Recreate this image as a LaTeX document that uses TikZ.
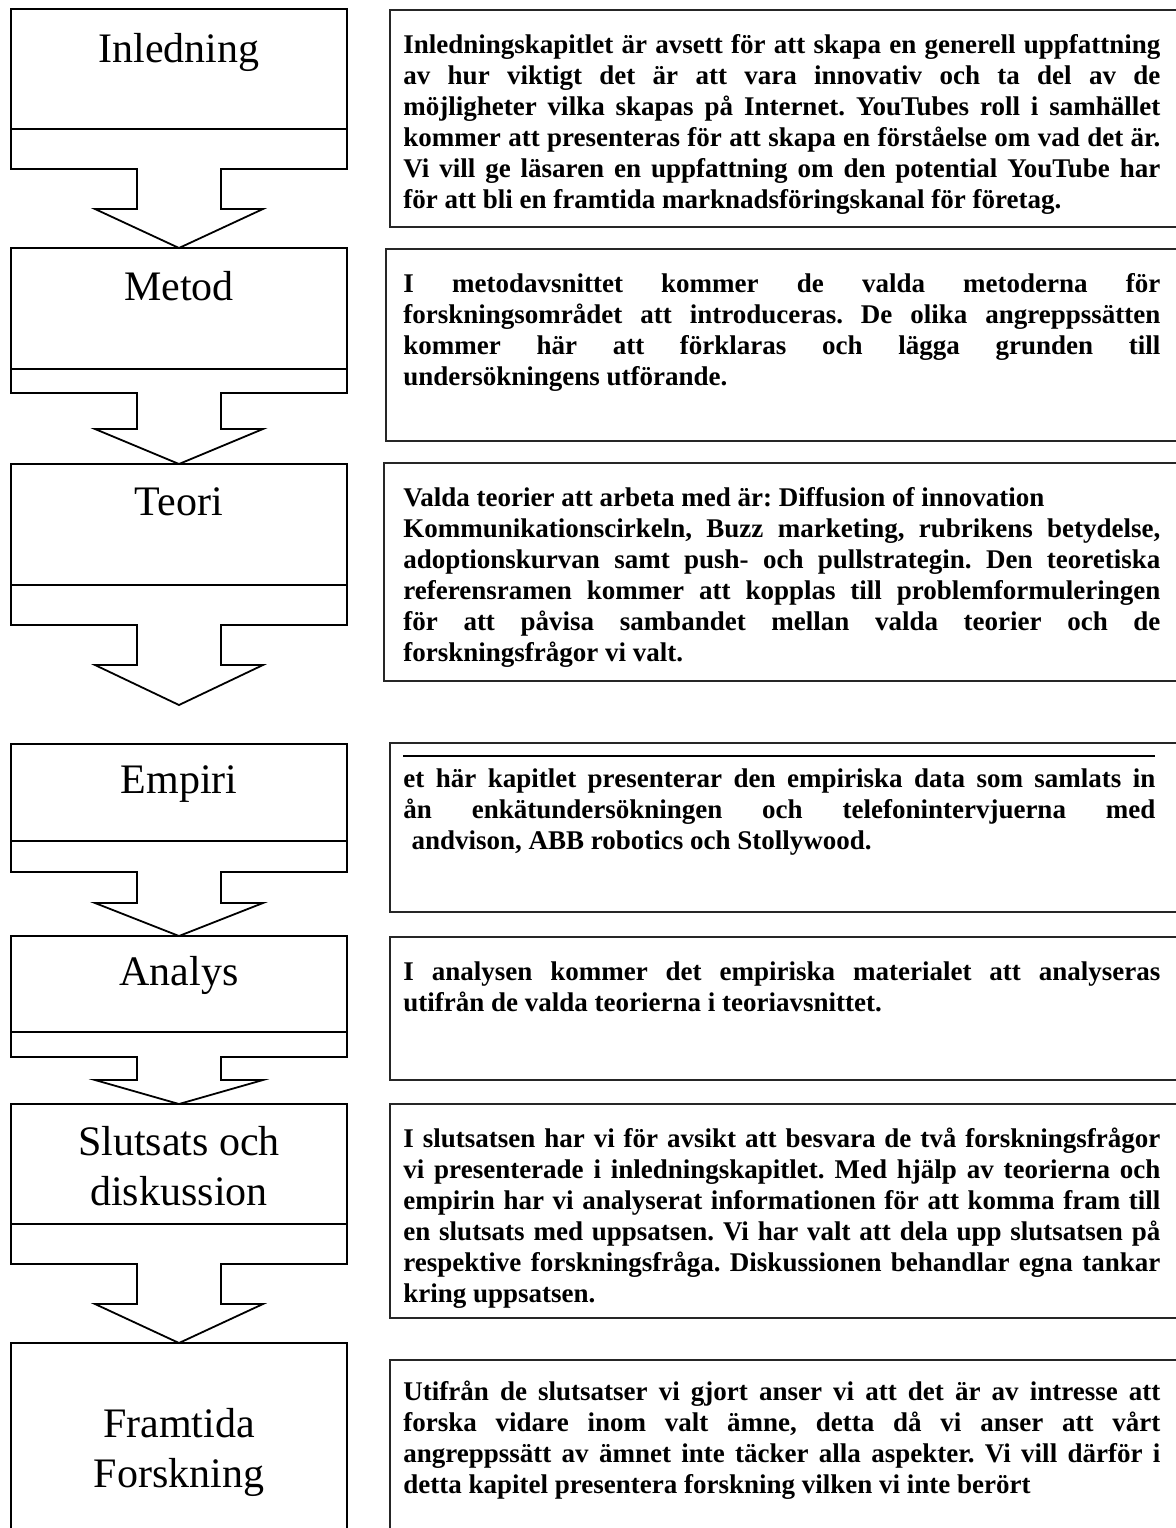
\documentclass[tikz,border=0pt]{standalone}
\usepackage{fontspec}
\setmainfont{Liberation Serif}
\frenchspacing
\newlength{\rw}\setlength{\rw}{378.5pt}
\newlength{\rwe}\setlength{\rwe}{376pt}
\newcommand{\rtxt}{\fontsize{13.5pt}{15.5pt}\selectfont\bfseries\frenchspacing}
\newcommand{\ltxt}{\fontsize{21pt}{25pt}\selectfont}
\newcommand{\jl}[1]{\hbox to \rw{#1}}
\newcommand{\jle}[1]{\hbox to \rwe{#1}}
\newcommand{\secshape}[5]{%
  \draw[leftbox] (11,#1) -- (347,#1) -- (347,#3) -- (221,#3) -- (221,#4) -- (263,#4)
    -- (179,#5) -- (95,#4) -- (137,#4) -- (137,#3) -- (11,#3) -- cycle;
  \draw[leftbox] (11,#2) -- (347,#2);}
\begin{document}
\begin{tikzpicture}[x=0.5pt,y=-0.5pt,
  leftbox/.style={draw=black, line width=0.9pt, line join=miter},
  rbox/.style={draw=black!85, line width=1.2pt},
  label/.style={font=\ltxt, inner sep=0pt, anchor=base},
  desc/.style={font=\rtxt, inner sep=0pt, anchor=base west}]
\useasboundingbox (0,0) rectangle (1176,1528);
\clip (0,0) rectangle (1176,1528);

% left flow shapes
\secshape{9}{129}{169}{209}{248}
\secshape{248}{369}{393}{429}{464}
\secshape{464}{585}{625}{665}{705}
\secshape{744}{841}{872}{903}{936}
\secshape{936}{1032}{1057}{1080}{1104}
\secshape{1104}{1224}{1264}{1304}{1343}
\draw[leftbox] (11,1545) -- (11,1343) -- (347,1343) -- (347,1545);

% left labels
\node[label] (inl) at (179,62) {Inledning};
\node[label] (met) at (179,300) {Metod};
\node[label] (teo) at (179,515) {Teori};
\node[label] (emp) at (179,793) {Empiri};
\node[label] (ana) at (179,985) {Analys};
\node[label] (slu) at (179,1155) {\begin{tabular}[t]{@{}c@{}}Slutsats och\\diskussion\end{tabular}};
\node[label] (fra) at (179,1437) {\begin{tabular}[t]{@{}c@{}}Framtida\\Forskning\end{tabular}};

% right boxes
\draw[rbox] (390,10) rectangle (1190,227);
\draw[rbox] (386,249) rectangle (1190,441);
\draw[rbox] (384,463) rectangle (1190,681);
\draw[rbox] (390,743) rectangle (1190,912);
\draw[black, line width=1pt] (403,756) -- (1155,756);
\draw[rbox] (390,937) rectangle (1190,1080);
\draw[rbox] (390,1104) rectangle (1190,1318);
\draw[rbox] (390,1360) rectangle (1190,1560);

% descriptions
\node[desc] (d1) at (403,53) {\vtop{%
\jl{Inledningskapitlet är avsett för att skapa en generell uppfattning}
\jl{av hur viktigt det är att vara innovativ och ta del av de}
\jl{möjligheter vilka skapas på Internet. YouTubes roll i samhället}
\jl{kommer att presenteras för att skapa en förståelse om vad det är.}
\jl{Vi vill ge läsaren en uppfattning om den potential YouTube har}
\hbox{för att bli en framtida marknadsföringskanal för företag.}}};

\node[desc] (d2) at (403,292) {\vtop{%
\jl{I metodavsnittet kommer de valda metoderna för}
\jl{forskningsområdet att introduceras. De olika angreppssätten}
\jl{kommer här att förklaras och lägga grunden till}
\hbox{undersökningens utförande.}}};

\node[desc] (d3) at (403,506) {\vtop{%
\hbox{Valda teorier att arbeta med är: Diffusion of innovation}
\jl{Kommunikationscirkeln, Buzz marketing, rubrikens betydelse,}
\jl{adoptionskurvan samt push- och pullstrategin. Den teoretiska}
\jl{referensramen kommer att kopplas till problemformuleringen}
\jl{för att påvisa sambandet mellan valda teorier och de}
\hbox{forskningsfrågor vi valt.}}};

\node[desc] (d4) at (403,787) {\vtop{%
\jle{et här kapitlet presenterar den empiriska data som samlats in}
\jle{ån enkätundersökningen och telefonintervjuerna med}
\hbox{\hspace*{0.3em}andvison, ABB robotics och Stollywood.}}};

\node[desc] (d5) at (403,980) {\vtop{%
\jl{I analysen kommer det empiriska materialet att analyseras}
\hbox{utifrån de valda teorierna i teoriavsnittet.}}};

\node[desc] (d6) at (403,1147) {\vtop{%
\jl{I slutsatsen har vi för avsikt att besvara de två forskningsfrågor}
\jl{vi presenterade i inledningskapitlet. Med hjälp av teorierna och}
\jl{empirin har vi analyserat informationen för att komma fram till}
\jl{en slutsats med uppsatsen. Vi har valt att dela upp slutsatsen på}
\jl{respektive forskningsfråga. Diskussionen behandlar egna tankar}
\hbox{kring uppsatsen.}}};

\node[desc] (d7) at (403,1400) {\vtop{%
\jl{Utifrån de slutsatser vi gjort anser vi att det är av intresse att}
\jl{forska vidare inom valt ämne, detta då vi anser att vårt}
\jl{angreppssätt av ämnet inte täcker alla aspekter. Vi vill därför i}
\hbox{detta kapitel presentera forskning vilken vi inte berört}}};
\end{tikzpicture}
\end{document}
